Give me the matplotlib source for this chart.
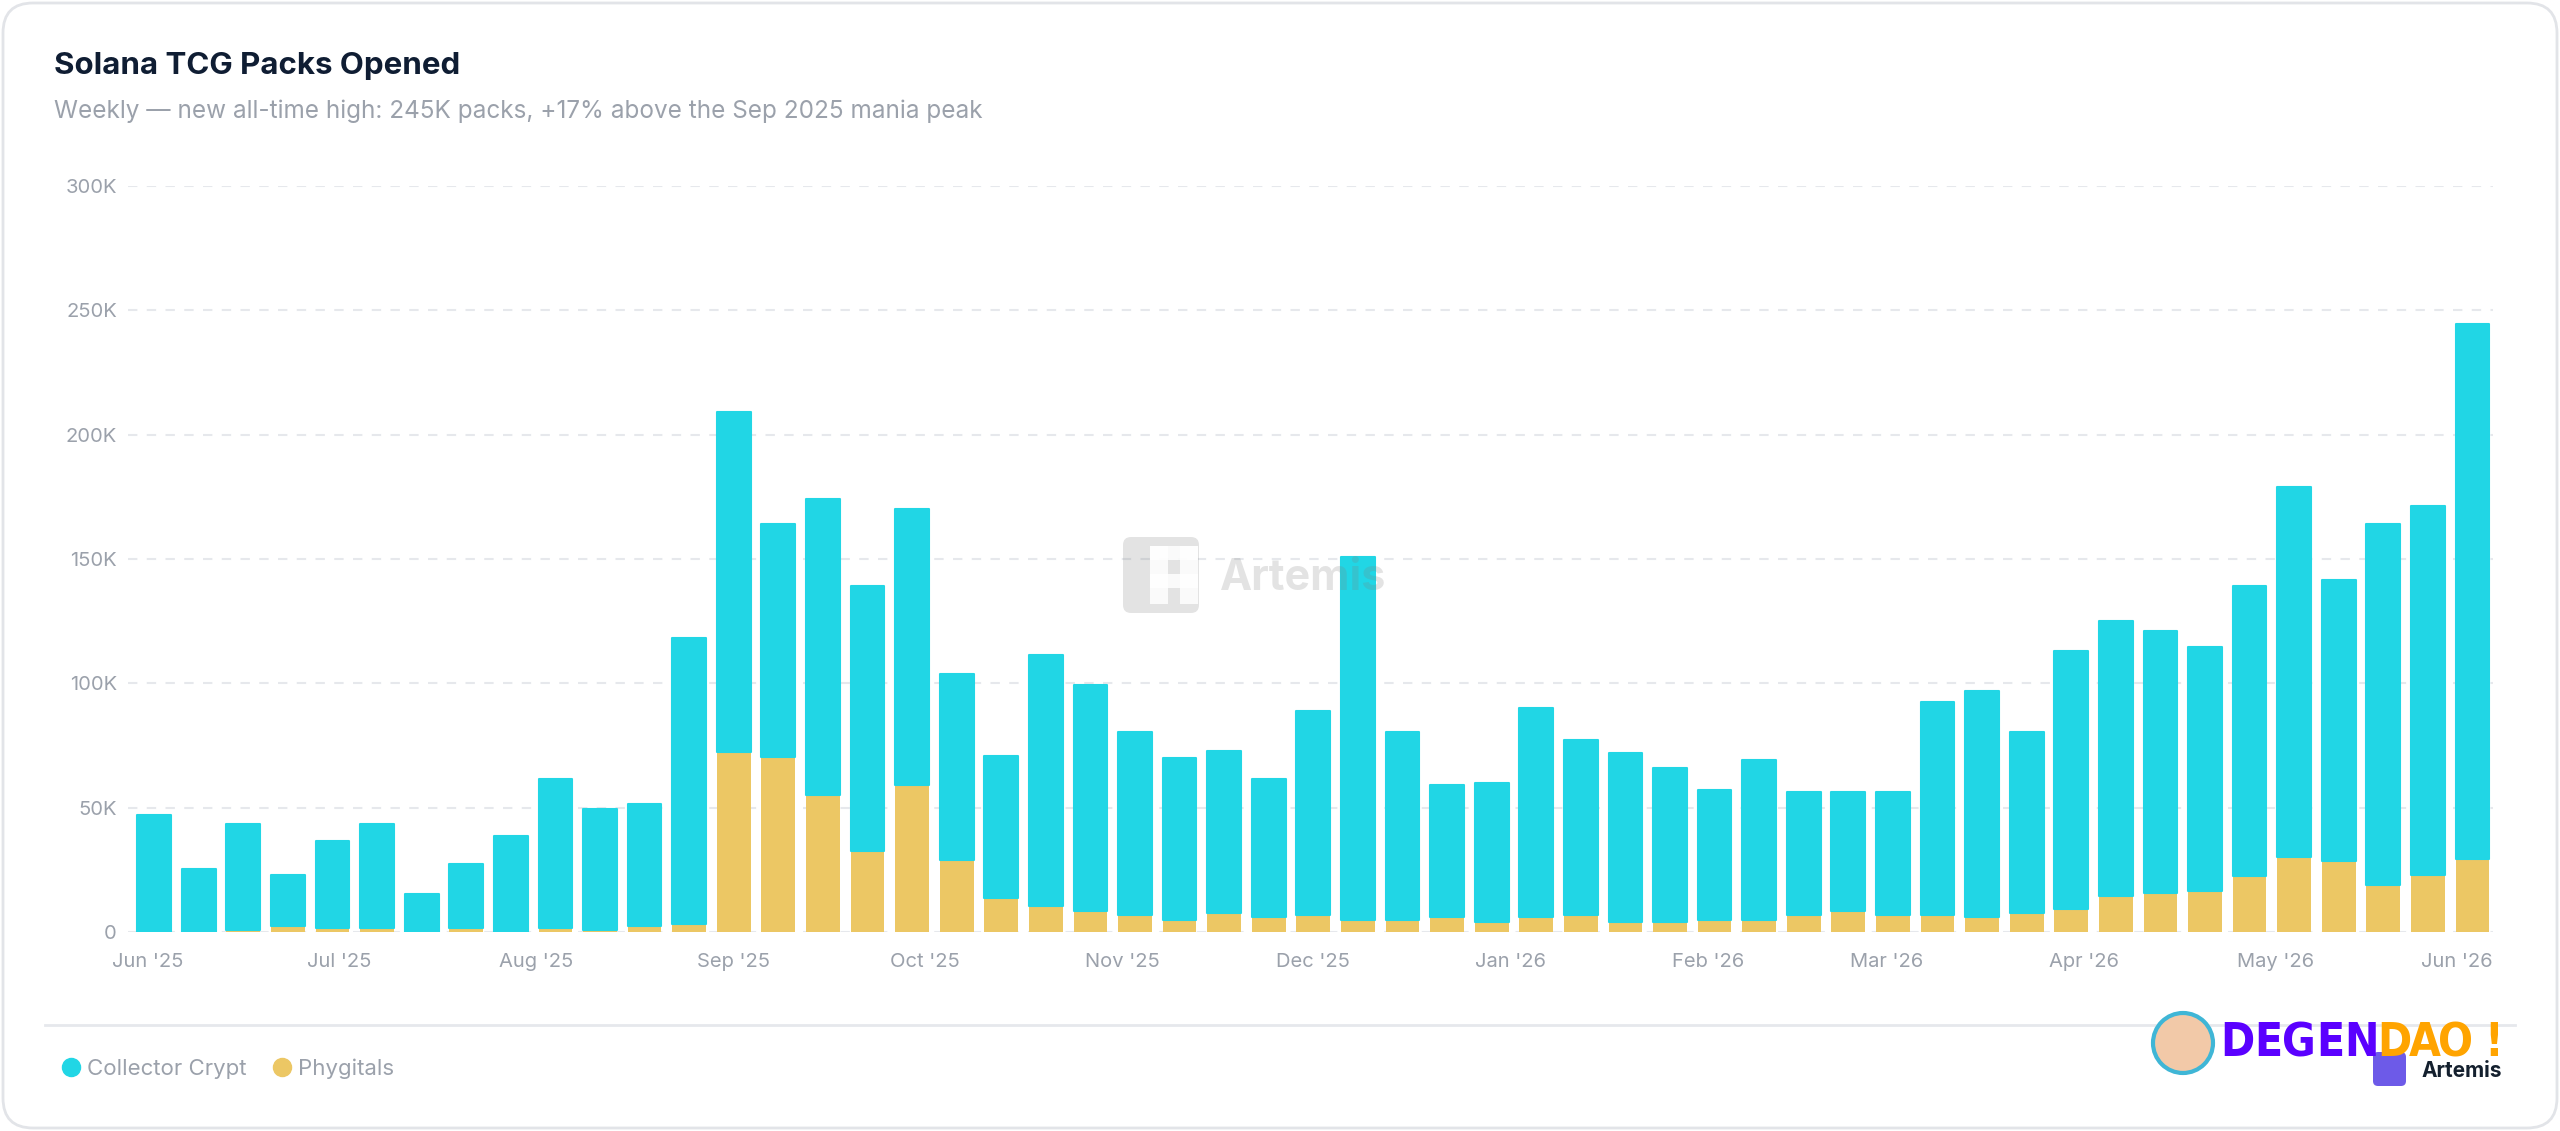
import matplotlib
matplotlib.use("Agg")
import matplotlib.pyplot as plt
import matplotlib.patches as mpatches
import matplotlib.ticker as mticker
import matplotlib.dates as mdates
import matplotlib.transforms as mtrans
import numpy as np
import pandas as pd

# ── Data (weekly, thousands of packs) ────────────────────────────────────────
weeks = pd.date_range("2025-06-02", periods=53, freq="7D")

collector_crypt = [
    47.0, 25.5, 42.7, 20.7, 35.2, 41.9, 15.3, 25.8, 38.6, 60.0,
    48.8, 48.9, 115.0, 136.8, 93.4, 119.1, 106.5, 110.9, 74.6, 57.2,
    101.0, 90.8, 73.5, 65.0, 65.1, 55.6, 82.2, 145.8, 75.3, 53.2,
    55.7, 84.0, 70.2, 67.9, 61.8, 52.2, 64.2, 49.5, 47.8, 49.5,
    85.7, 91.0, 72.7, 103.6, 110.4, 105.4, 98.4, 116.7, 149.0, 113.0,
    145.1, 148.4, 215.3,
]
phygitals = [
    0.0, 0.0, 0.7, 2.4, 1.5, 1.5, 0.0, 1.5, 0.0, 1.5,
    0.7, 2.4, 3.3, 72.2, 70.5, 55.0, 32.5, 59.1, 29.0, 13.7,
    10.3, 8.5, 6.8, 5.0, 7.6, 5.9, 6.8, 5.0, 5.0, 5.9,
    4.1, 5.9, 6.8, 4.1, 4.1, 5.0, 5.0, 6.8, 8.5, 6.8,
    6.8, 5.9, 7.6, 9.4, 14.6, 15.5, 16.4, 22.3, 30.1, 28.4,
    18.8, 23.1, 29.2,
]

y_ticks = [0, 50, 100, 150, 200, 250, 300]

# ── Palette ──────────────────────────────────────────────────────────────────
CYAN   = "#21d6e5"
GOLD   = "#ecc764"
NAVY   = "#0f1d33"
MUTED  = "#9ba1ab"
GRID   = "#e6e8ec"
BORDER = "#e2e4e8"

plt.rcParams["font.family"] = ["Inter", "DejaVu Sans"]

fig = plt.figure(figsize=(25.6, 11.31), dpi=100, facecolor="white")

# card outline (drawn behind everything)
card = mpatches.FancyBboxPatch(
    (0.03, 0.03), 25.54, 11.25, boxstyle="round,pad=0,rounding_size=0.3",
    transform=fig.dpi_scale_trans, facecolor="none", edgecolor=BORDER, lw=2,
    zorder=-1,
)
fig.patches.append(card)

ax = fig.add_axes([0.05, 0.176, 0.9238, 0.6595])
ax.set_facecolor("none")

collector = np.array(collector_crypt) * 1000
phyg = np.array(phygitals) * 1000
width = 5.3

ax.bar(weeks, phyg, width=width, color=GOLD, zorder=3, linewidth=0)
ax.bar(weeks, collector, bottom=phyg, width=width, color=CYAN, zorder=3,
       edgecolor=CYAN, linewidth=1.5, joinstyle="round")

ax.set_ylim(0, 300000)
ax.set_xlim(weeks[0] - pd.Timedelta(days=4.1), weeks[-1] + pd.Timedelta(days=3.2))
ax.set_yticks([v * 1000 for v in y_ticks])
ax.yaxis.set_major_formatter(
    mticker.FuncFormatter(lambda v, _: "0" if v == 0 else f"{v/1000:.0f}K")
)
ax.grid(axis="y", color=GRID, lw=1.5, linestyle=(0, (4.5, 4.5)), zorder=0)
for s in ax.spines.values():
    s.set_visible(False)

ax.xaxis.set_major_locator(mdates.MonthLocator())
ax.xaxis.set_major_formatter(mdates.DateFormatter("%b '%y"))
ax.tick_params(axis="both", length=0, colors=MUTED, labelsize=14.5)
ax.tick_params(axis="y", pad=8)
ax.tick_params(axis="x", pad=15)

# keep the last month label inside the plot area
fig.canvas.draw()
last = ax.get_xticklabels()[-1]
last.set_transform(last.get_transform() + mtrans.ScaledTranslation(-0.16, 0, fig.dpi_scale_trans))

# ── Titles ───────────────────────────────────────────────────────────────────
fig.text(54 / 2560, 1 - 66 / 1131, "Solana TCG Packs Opened", color=NAVY,
         fontsize=22.5, fontweight="bold", va="center")
fig.text(54 / 2560, 1 - 111 / 1131,
         "Weekly — new all-time high: 245K packs, +17% above the Sep 2025 mania peak",
         color=MUTED, fontsize=17.5, va="center")

# ── Watermark ────────────────────────────────────────────────────────────────
wm = mpatches.FancyBboxPatch(
    (1123 / 100, (1131 - 613) / 100), 0.76, 0.76,
    boxstyle="round,pad=0,rounding_size=0.08", transform=fig.dpi_scale_trans,
    facecolor="#808080", alpha=0.22, edgecolor="none", zorder=10,
)
fig.patches.append(wm)
# white pixel glyph inside the watermark icon
for (px, py, pw, ph) in [(1150, 546, 18, 58), (1150, 546, 48, 14), (1180, 546, 18, 58),
                          (1150, 574, 48, 14)]:
    fig.patches.append(mpatches.Rectangle(
        (px / 100, (1131 - py - ph) / 100), pw / 100, ph / 100,
        transform=fig.dpi_scale_trans, facecolor="white", alpha=0.85,
        edgecolor="none", zorder=11))
fig.text(1220 / 2560, 1 - 578 / 1131, "Artemis", color="#808080", alpha=0.22,
         fontsize=31, fontweight="bold", va="center", zorder=10)

# ── Legend ───────────────────────────────────────────────────────────────────
fig.add_artist(plt.Line2D([45 / 2560, 2515 / 2560], [1 - 1025 / 1131] * 2,
                          color=GRID, lw=2, transform=fig.transFigure))
handles = [
    plt.Line2D([], [], marker="o", ls="", color=CYAN, markersize=13),
    plt.Line2D([], [], marker="o", ls="", color=GOLD, markersize=13),
]
fig.legend(handles, ["Collector Crypt", "Phygitals"], loc="center left",
           bbox_to_anchor=(38 / 2560, 1 - 1069 / 1131), ncol=2, frameon=False,
           fontsize=16, labelcolor=MUTED, handletextpad=0.1, columnspacing=1.0,
           handlelength=1.2)

# ── Logos bottom right ───────────────────────────────────────────────────────
art = mpatches.FancyBboxPatch(
    (2373 / 100, (1131 - 1086) / 100), 0.33, 0.34,
    boxstyle="round,pad=0,rounding_size=0.05", transform=fig.dpi_scale_trans,
    facecolor="#6d5ae8", edgecolor="none", zorder=5,
)
fig.patches.append(art)
fig.text(2422 / 2560, 1 - 1071 / 1131, "Artemis", color="#14202e", fontsize=15,
         fontweight="bold", va="center", zorder=5)

avatar = mpatches.Circle((2183 / 100, (1131 - 1043) / 100), 0.30,
                         transform=fig.dpi_scale_trans, facecolor="#f2c9a8",
                         edgecolor="#3fb6d6", lw=3, zorder=6)
fig.patches.append(avatar)

logo_font = dict(family="DejaVu Sans", fontstretch="condensed",
                 fontweight="bold", fontsize=33, ha="center", va="center", zorder=7)
for ch, cx in zip("DEGEN", [2237, 2268, 2299, 2330, 2361]):
    fig.text(cx / 2560, 1 - 1044 / 1131, ch, color="#5a00ff", **logo_font)
for ch, cx in zip("DAO!", [2394, 2425, 2456, 2494]):
    fig.text(cx / 2560, 1 - 1044 / 1131, ch, color="#ffa400", **logo_font)

fig.savefig("out.png", dpi=100, facecolor="white")
